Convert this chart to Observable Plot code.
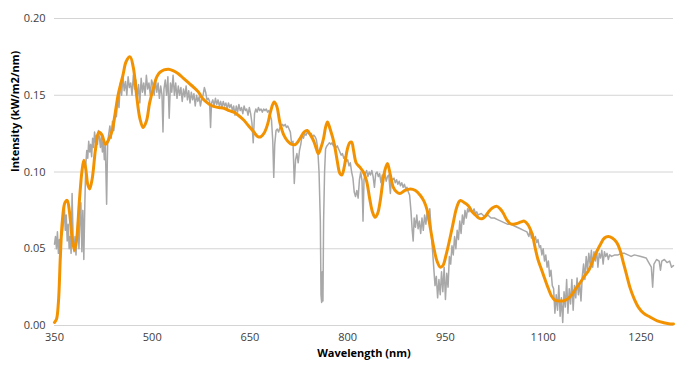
<!DOCTYPE html>
<html><head><meta charset="utf-8">
<script src="https://cdn.jsdelivr.net/npm/d3@7"></script>
<script src="https://cdn.jsdelivr.net/npm/@observablehq/plot@0.6"></script>
<style>body{margin:0;background:#fff;}</style>
</head><body><div id="chart"></div>
<script>
const xTicks = [350, 500, 650, 800, 950, 1100, 1250];
const yTicks = [0, 0.05, 0.10, 0.15, 0.20];
const xLabel = "Wavelength (nm)";
const yLabel = "Intensity (kW/m2/nm)";

// measured spectrum (gray)
const grayNm = [350,351.5,353,354.5,356,357.5,359,360.5,362,363.5,365,366.5,368,369.5,371,372.5,374,375.5,377,378.5,380,381.5,383,384.5,386,387.5,389,390.5,392,393.5,395,396.5,398,399.5,401,402.5,404,405.5,407,408.5,410,411.5,413,414.5,416,417.5,419,420.5,422,423.5,425,426.5,428,430,431.5,433,435,437,439,441,443,445,447,449,451,453,455,457,459,461,463,465,467,469,471,473,475,477,479,481,483,485,487,489,491,493,495,497,499,
501,503,505,507,509,511,513,515,516.5,518,520,522,524,526,528,530,532,534,536,538,540,542,544,546,548,550,552,554,556,558,560,562,564,566,568,570,572,574,576,578,580,582,584,586,588,589.5,591,593,595,597,599,601,603,605,607,609,611,613,615,617,619,621,623,625,627,629,631,633,635,637,639,641,643,645,647,649,651,653,655,657,659,661,663,665,667,669,671,673,675,677,679,681,683,685,686.5,688,690,692,694,696,698,700,702,704,706,708,710,712,714,716,718,720,722,724,726,728,730,732,734,736,738,740,742,744,746,748,750,752,754,756,758,759,760,761,762,763,764.5,766,768,770,772,774,776,778,780,782,784,786,788,
790,792,794,796,798,800,802,804,806,808,810,812,814,816,818,820,822,823.5,825,827,829,831,833,835,837,839,841,843,845,847,849,851,853,855,857,859,861,863,865.5,867,869,871,873,875,877,879,881,883,885,887,889,891,893,895,897,899,900.5,902,904,906,908,910,912,914,916,918,920,922,924,926,928,930,932,934,936,938,940,942,944,946,948,950,952,954,956,958,960,962,964,966,968,970,972,974,976,978,980,982,984,986,988,990,992,994,996,998,1000,1005,1010,1015,1020,1025,1030,1035,1040,1045,1050,1055,1060,1065,1070,1075,1078,1080,1082,1084,1086,1088,1090,1092,1094,1096,1098,
1100,1102,1104,1106,1108,1110,1112,1114,1116,1118,1120,1122,1124,1126,1128,1130,1132,1134,1136,1138,1140,1142,1144,1146,1148,1150,1152,1154,1156,1158,1160,1162,1164,1166,1168,1170,1172,1174,1176,1178,1180,1182,1184,1186,1188,1190,1192,1194,1196,1198,1200,1202,1205,1210,1215,1220,1225,1230,1235,1240,1250,1258,1262,1266,1268,1270,1274,1278,1280,1282,1286,1290,1294,1297,1300];
const grayVal = [0.053,0.058,0.050,0.061,0.047,0.056,0.044,0.058,0.060,0.066,0.079,0.062,0.072,0.055,0.066,0.050,0.058,0.047,0.086,0.058,0.048,0.058,0.046,0.060,0.070,0.050,0.068,0.080,0.048,0.075,0.043,0.078,0.105,0.114,0.109,0.120,0.113,0.118,0.110,0.122,0.116,0.126,0.119,0.124,0.118,0.127,0.122,0.116,0.124,0.113,0.120,0.108,0.118,0.079,0.118,0.124,0.130,0.122,0.133,0.127,0.140,0.136,0.148,0.142,0.158,0.150,0.162,0.153,0.159,0.150,0.162,0.155,0.158,0.150,0.163,0.154,0.160,0.148,0.157,0.145,0.161,0.152,0.158,0.150,0.163,0.154,0.158,0.150,0.160,
0.157,0.150,0.160,0.152,0.158,0.148,0.156,0.150,0.126,0.154,0.160,0.150,0.162,0.135,0.158,0.152,0.163,0.150,0.158,0.148,0.156,0.150,0.155,0.146,0.154,0.149,0.156,0.147,0.153,0.145,0.152,0.147,0.151,0.143,0.150,0.146,0.149,0.143,0.148,0.150,0.155,0.152,0.147,0.148,0.146,0.129,0.145,0.147,0.143,0.148,0.144,0.147,0.143,0.146,0.142,0.146,0.143,0.145,0.141,0.145,0.142,0.144,0.140,0.143,0.137,0.143,0.139,0.144,0.140,0.142,0.138,0.143,0.140,0.141,0.137,0.142,0.138,0.132,0.119,0.138,0.141,0.139,0.142,0.140,0.141,0.139,0.141,0.140,0.141,0.139,0.140,0.137,0.134,0.120,0.0965,0.118,0.127,0.128,0.126,0.129,0.130,0.131,0.130,0.131,0.129,0.130,0.128,0.126,0.118,0.120,0.0925,0.108,0.112,0.106,0.114,0.118,0.124,0.122,0.125,0.124,0.126,0.125,0.124,0.125,0.123,0.124,0.123,0.121,0.115,0.100,0.068,0.020,0.015,0.035,0.016,0.068,0.100,0.115,0.117,0.118,0.119,0.118,0.119,0.117,0.118,0.116,0.117,0.115,0.113,
0.111,0.112,0.109,0.110,0.107,0.108,0.104,0.106,0.100,0.096,0.087,0.084,0.088,0.083,0.095,0.100,0.094,0.068,0.095,0.099,0.101,0.097,0.100,0.098,0.101,0.097,0.090,0.099,0.100,0.097,0.099,0.093,0.098,0.097,0.099,0.094,0.097,0.098,0.086,0.096,0.095,0.096,0.093,0.095,0.092,0.094,0.091,0.093,0.090,0.092,0.089,0.090,0.087,0.085,0.075,0.062,0.055,0.070,0.064,0.072,0.063,0.068,0.060,0.070,0.062,0.072,0.066,0.074,0.068,0.076,0.062,0.050,0.038,0.026,0.032,0.018,0.030,0.020,0.035,0.022,0.038,0.017,0.034,0.025,0.045,0.040,0.052,0.046,0.058,0.050,0.062,0.056,0.068,0.060,0.072,0.066,0.075,0.070,0.076,0.074,0.077,0.075,0.074,0.076,0.073,0.074,0.072,0.073,0.071,0.072,0.070,0.070,0.069,0.068,0.067,0.066,0.066,0.065,0.064,0.063,0.062,0.061,0.058,0.062,0.057,0.060,0.055,0.058,0.054,0.056,0.051,0.052,0.046,
0.050,0.042,0.046,0.038,0.042,0.032,0.036,0.026,0.024,0.008,0.020,0.010,0.026,0.006,0.018,0.002,0.022,0.012,0.030,0.008,0.024,0.014,0.030,0.010,0.026,0.018,0.031,0.020,0.028,0.016,0.032,0.040,0.030,0.045,0.036,0.047,0.040,0.049,0.038,0.048,0.042,0.049,0.038,0.047,0.044,0.049,0.040,0.048,0.045,0.047,0.043,0.046,0.045,0.046,0.046,0.047,0.047,0.046,0.045,0.046,0.045,0.044,0.041,0.038,0.025,0.040,0.043,0.042,0.036,0.042,0.043,0.041,0.042,0.038,0.039];

// smoothed / model curve (orange)
const orangeNm = [350,353,356,359,362,366,369.5,373,377,380.7,384,388,392,395,398,401,404,408,413,418,423,428,433,438.5,443,448,455,460,466,471,476,481,486,491,496,502,507,512,518,525,532,540,548,556,564,571,577,582,588,594,602,610,618,625,632,640,648,656,662,667,672,677,682,687,691,696,702,708,714,720,727,733,738,743,748,752,755,759,763,766,769,773,779,784,788,791,795,799,803,806,809,813,819,824,829,834,838,842,846,850,854,857,861,865,870,875,880,888,896,904,911,917,922,927,932,937,942,946,951,957,962,966,970,973,979,985,991,996,1001,1006,1011,1016,1022,1029,1034,1039,1044,1049,1054,1060,1066,1071,1076,1080,1084,1088,1092,1097,1102,1108,1113,1118,1124,1131,1138,1144,1150,1157,1163,1170,1176,1182,1188,1194,1200,1206,1213,1218,1223,1228,1233,1240,1246,1254,1264,1275,1285,1295,1300];
const orangeVal = [0.002,0.004,0.015,0.045,0.068,0.080,0.0815,0.074,0.057,0.049,0.056,0.080,0.100,0.1076,0.102,0.092,0.089,0.096,0.115,0.126,0.124,0.118,0.121,0.127,0.138,0.151,0.163,0.172,0.175,0.168,0.150,0.135,0.129,0.133,0.145,0.155,0.162,0.165,0.1665,0.167,0.166,0.164,0.161,0.158,0.155,0.152,0.148,0.146,0.144,0.1428,0.142,0.1415,0.140,0.139,0.137,0.134,0.130,0.126,0.123,0.123,0.1255,0.131,0.140,0.1456,0.143,0.132,0.124,0.120,0.118,0.118,0.122,0.126,0.127,0.124,0.120,0.115,0.112,0.116,0.122,0.129,0.1326,0.128,0.119,0.107,0.099,0.098,0.104,0.114,0.119,0.1195,0.114,0.106,0.103,0.100,0.094,0.082,0.074,0.0705,0.073,0.0815,0.094,0.101,0.1056,0.099,0.090,0.087,0.086,0.088,0.089,0.088,0.085,0.081,0.075,0.063,0.051,0.042,0.038,0.039,0.046,0.057,0.067,0.075,0.080,0.0815,0.080,0.078,0.074,0.072,0.070,0.0695,0.071,0.074,0.0765,0.0776,0.076,0.073,0.069,0.0665,0.066,0.0665,0.0675,0.068,0.066,0.063,0.058,0.050,0.043,0.037,0.031,0.024,0.019,0.0165,0.016,0.016,0.0175,0.020,0.024,0.028,0.032,0.036,0.042,0.048,0.053,0.057,0.058,0.057,0.054,0.049,0.041,0.033,0.025,0.017,0.012,0.008,0.0055,0.003,0.0018,0.001,0.001];

const gray = grayNm.map((n, i) => ({nm: n, v: grayVal[i]}));
const orange = orangeNm.map((n, i) => ({nm: n, v: orangeVal[i]}));

const chart = Plot.plot({
  width: 689,
  height: 366,
  marginLeft: 54,
  marginRight: 16,
  marginTop: 18,
  marginBottom: 41,
  style: {fontFamily: "'Open Sans', sans-serif", fontSize: "11px", color: "#404040", background: "#fff"},
  x: {domain: [350, 1300]},
  y: {domain: [0, 0.2]},
  marks: [
    Plot.gridY(yTicks, {stroke: "#d4d4d4", strokeOpacity: 1, strokeWidth: 1}),
    Plot.line(gray, {x: "nm", y: "v", stroke: "#a8a8a8", strokeWidth: 1.5}),
    Plot.line(orange, {x: "nm", y: "v", stroke: "#f39200", strokeWidth: 3, curve: "catmull-rom"}),
    Plot.axisX(xTicks, {tickSize: 0, tickPadding: 8, label: null, tickFormat: d => String(d), fill: "#404040", fontSize: 11}),
    Plot.axisY(yTicks, {tickSize: 0, tickPadding: 9, label: null, tickFormat: d => d.toFixed(2), fill: "#404040", fontSize: 11}),
    Plot.text([xLabel], {frameAnchor: "bottom", dy: 31, fontWeight: "bold", fontSize: 11, fill: "#000"}),
    Plot.text([yLabel], {frameAnchor: "left", dx: -39, rotate: -90, fontWeight: "bold", fontSize: 11, fill: "#000"})
  ]
});
document.getElementById("chart").appendChild(chart);
</script>
</body></html>
